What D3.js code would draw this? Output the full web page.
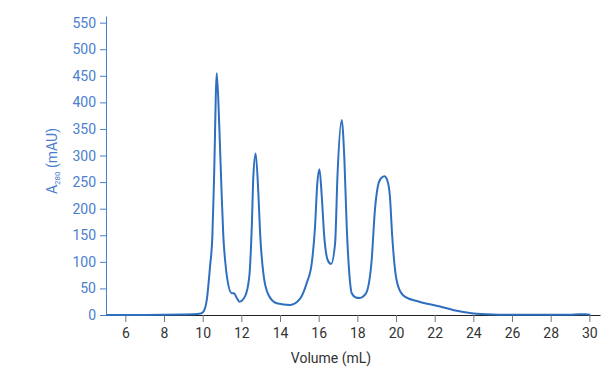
<!DOCTYPE html>
<html><head><meta charset="utf-8">
<script src="https://cdn.jsdelivr.net/npm/d3@7"></script>
<style>body{margin:0;background:#fff}svg{display:block}</style>
</head><body><svg id="c" width="605" height="369"></svg>
<script>
const volume = [5,6,7,8,9,9.5,9.9,10.03,10.21,10.38,10.5,10.59,10.73,10.86,10.98,11.07,11.16,11.28,11.5,11.62,11.75,11.9,12.19,12.41,12.54,12.62,12.74,12.88,12.97,13.14,13.4,13.83,14.52,15.04,15.38,15.64,15.81,15.93,16.04,16.16,16.29,16.47,16.64,16.85,16.97,17.19,17.33,17.45,17.57,17.71,17.92,18.12,18.3,18.48,18.74,18.91,19.05,19.2,19.4,19.55,19.68,19.8,19.95,20.12,20.47,21.16,22.28,23,24,25,26,27,28,29,29.5,29.8,30.05];
const absorbance = [0,0,0,0.3,1,1.5,3,6,28,91,147,260,455,354,229,147,103,66,41,41,33,25,35,72,166,260,304,229,154,78,38,22,19,31,60,97,166,248,274,223,147,103,96,135,260,367,292,166,85,41,33,32,35,43,103,198,240,256,261,253,225,150,85,53,34,25.5,16,9,3,1,0.5,0.3,0.3,0.5,1.5,1.5,0.5];
const xTicks = [6,8,10,12,14,16,18,20,22,24,26,28,30];
const yTicks = [0,50,100,150,200,250,300,350,400,450,500,550];

const svg = d3.select("#c");
const x = d3.scaleLinear().domain([5,30.55]).range([106,600]);
const y = d3.scaleLinear().domain([0,562.5]).range([315,16]);
const blue = "#4a80cc";

// x axis
const xa = svg.append("g").attr("transform","translate(0,315)")
  .call(d3.axisBottom(x).tickValues(xTicks).tickSize(7).tickPadding(6).tickSizeOuter(0));
xa.select(".domain").attr("stroke","#222");
xa.selectAll(".tick line").attr("stroke","#777");
xa.selectAll(".tick text").attr("fill","#333").style("font-family","Roboto, sans-serif").style("font-size","14px");

// y axis
const ya = svg.append("g").attr("transform","translate(106,0)")
  .call(d3.axisLeft(y).tickValues(yTicks).tickSize(6).tickPadding(4).tickSizeOuter(0));
ya.select(".domain").attr("stroke",blue);
ya.selectAll(".tick line").attr("stroke",blue);
ya.selectAll(".tick text").attr("fill",blue).style("font-family","Roboto, sans-serif").style("font-size","14px");

// curve
const data = volume.map((v,i)=>[v,absorbance[i]]);
svg.append("path").datum(data)
  .attr("fill","none").attr("stroke","#2f6fc0").attr("stroke-width",2)
  .attr("d", d3.line().x(d=>x(d[0])).y(d=>y(d[1])).curve(d3.curveMonotoneX));

// labels
const yl = svg.append("text").attr("transform","translate(57,161) rotate(-90)")
  .attr("text-anchor","middle").attr("fill",blue)
  .style("font-family","Roboto, sans-serif").style("font-size","14px");
yl.append("tspan").text("A");
yl.append("tspan").text("280").style("font-size","8px").attr("dy","3");
yl.append("tspan").text(" (mAU)").attr("dy","-3");

svg.append("text").attr("x",331).attr("y",363).attr("text-anchor","middle")
  .attr("fill","#333").style("font-family","Roboto, sans-serif").style("font-size","14px")
  .text("Volume (mL)");
</script></body></html>
